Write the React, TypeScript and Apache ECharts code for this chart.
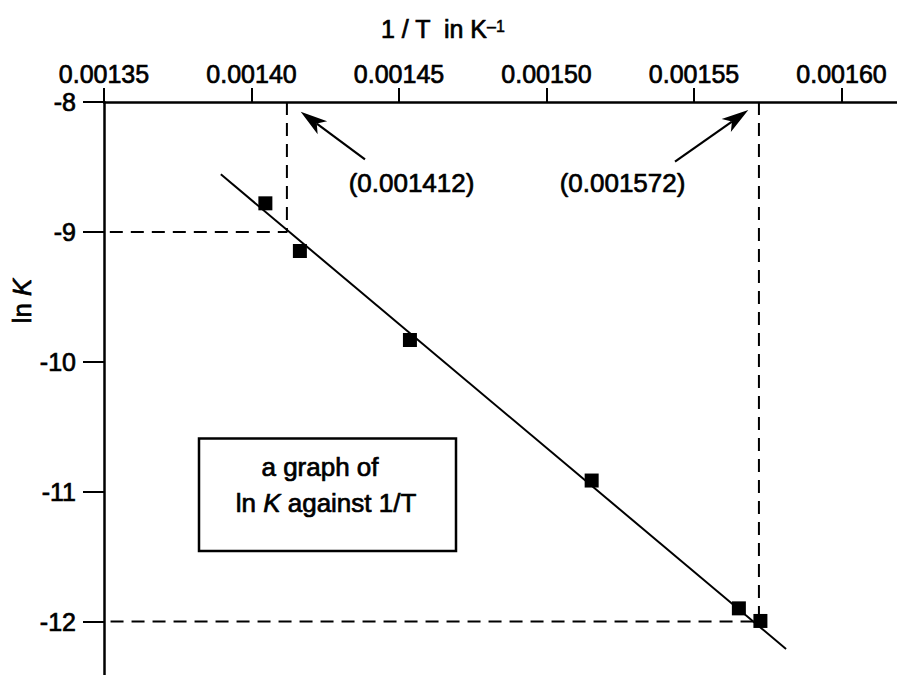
import React, { useEffect, useRef } from "react";
import * as echarts from "echarts";

// ---- data ----
const xTicks = [0.00135, 0.0014, 0.00145, 0.0015, 0.00155, 0.0016];
const yTicks = [-12, -11, -10, -9, -8];
const invT = [0.0014047, 0.0014164, 0.0014537, 0.0015153, 0.0015652, 0.0015725];
const lnK = [-8.78, -9.147, -9.832, -10.914, -11.898, -11.995];
const fitX = [0.0013896, 0.0015812];
const fitY = [-8.557, -12.211];
const readX = [0.001412, 0.001572];
const readY = [-9, -12];

const FONT = "'Liberation Sans', Arial, Helvetica, sans-serif";
const SW = 0.7; // slight stroke to mimic the heavier print weight

function arrow(tail: number[], tip: number[]) {
  const dx = tip[0] - tail[0];
  const dy = tip[1] - tail[1];
  const L = Math.hypot(dx, dy);
  const ux = dx / L, uy = dy / L;
  const nx = -uy, ny = ux;
  const hl = 27, hw = 8, notch = 20;
  const bx = tip[0] - ux * hl, by = tip[1] - uy * hl;
  const mx = tip[0] - ux * notch, my = tip[1] - uy * notch;
  return [
    { type: "line", shape: { x1: tail[0], y1: tail[1], x2: mx, y2: my }, style: { stroke: "#000", lineWidth: 2.2 } },
    {
      type: "polygon",
      shape: { points: [[tip[0], tip[1]], [bx + nx * hw, by + ny * hw], [mx, my], [bx - nx * hw, by - ny * hw]] },
      style: { fill: "#000" },
    },
  ];
}

export default function App() {
  const ref = useRef<HTMLDivElement>(null);
  useEffect(() => {
    if (!ref.current) return;
    const chart = echarts.init(ref.current, null, { renderer: "svg" });
    const points = invT.map((x, i) => [x, lnK[i]]);
    const fit = fitX.map((x, i) => [x, fitY[i]]);
    const guides = readX.map((x, i) => [[x, -8], [x, readY[i]], [0.00135, readY[i]]]);

    const txt = (size: number, italic = false) => ({
      fontSize: size,
      fontFamily: FONT,
      fontStyle: italic ? "italic" : "normal",
      fill: "#000",
      stroke: "#000",
      lineWidth: SW,
    });

    const option: any = {
      animation: false,
      backgroundColor: "#fff",
      grid: { left: 104, top: 102, right: 0, bottom: 0, containLabel: false },
      xAxis: {
        type: "value",
        position: "top",
        min: 0.00135,
        max: 0.0016188,
        axisLine: { onZero: false, lineStyle: { color: "#000", width: 2.5 } },
        axisTick: { show: true, length: 14, lineStyle: { color: "#000", width: 2 }, customValues: xTicks },
        axisLabel: {
          customValues: xTicks,
          formatter: (v: number) => v.toFixed(5),
          fontSize: 25,
          color: "#000",
          fontFamily: FONT,
          textBorderColor: "#000",
          textBorderWidth: SW,
          margin: 16,
        },
        splitLine: { show: false },
      },
      yAxis: {
        type: "value",
        min: -12.411,
        max: -8,
        axisLine: { onZero: false, lineStyle: { color: "#000", width: 2.5 } },
        axisTick: { show: true, length: 21, lineStyle: { color: "#000", width: 2 }, customValues: yTicks },
        axisLabel: {
          customValues: yTicks,
          formatter: (v: number) => String(v),
          fontSize: 25,
          color: "#000",
          fontFamily: FONT,
          textBorderColor: "#000",
          textBorderWidth: SW,
          margin: 28,
        },
        splitLine: { show: false },
      },
      series: [
        ...guides.map((g) => ({
          type: "line",
          data: g,
          showSymbol: false,
          symbol: "none",
          lineStyle: { color: "#000", width: 2, type: [13, 8] },
          z: 1,
        })),
        {
          type: "line",
          data: fit,
          showSymbol: false,
          symbol: "none",
          lineStyle: { color: "#000", width: 2 },
          z: 2,
        },
        {
          type: "scatter",
          data: points,
          symbol: "rect",
          symbolSize: 14,
          itemStyle: { color: "#000", opacity: 1 },
          z: 3,
        },
      ],
      graphic: [
        {
          type: "text",
          x: 487,
          y: 28.5,
          style: { text: "1 / T  in K", ...txt(25), textAlign: "right", textVerticalAlign: "middle" },
        },
        {
          type: "text",
          x: 487,
          y: 26,
          style: { text: "\u20131", ...txt(16), lineWidth: 0.5, textAlign: "left", textVerticalAlign: "middle" },
        },
        {
          type: "text",
          x: 22,
          y: 301,
          rotation: Math.PI / 2,
          style: {
            text: "{a|ln }{b|K}",
            textAlign: "center",
            textVerticalAlign: "middle",
            rich: { a: txt(26), b: txt(26, true) },
          },
        },
        {
          type: "text",
          x: 411.5,
          y: 183,
          style: { text: `(${readX[0]})`, ...txt(26), textAlign: "center", textVerticalAlign: "middle" },
        },
        {
          type: "text",
          x: 622.5,
          y: 183,
          style: { text: `(${readX[1]})`, ...txt(26), textAlign: "center", textVerticalAlign: "middle" },
        },
        ...arrow([365, 159.3], [300.7, 111.7]),
        ...arrow([675, 161.7], [748.3, 110]),
        {
          type: "rect",
          shape: { x: 199, y: 438.5, width: 257, height: 112.5 },
          style: { fill: "none", stroke: "#000", lineWidth: 2.5 },
        },
        {
          type: "text",
          x: 320,
          y: 467,
          style: { text: "a graph of", ...txt(26), textAlign: "center", textVerticalAlign: "middle" },
        },
        {
          type: "text",
          x: 326,
          y: 503,
          style: {
            text: "{a|ln }{b|K}{a| against 1/T}",
            textAlign: "center",
            textVerticalAlign: "middle",
            rich: { a: txt(26), b: txt(26, true) },
          },
        },
      ],
    };
    chart.setOption(option);
    return () => chart.dispose();
  }, []);
  return (
    <div
      ref={ref}
      style={{ position: "fixed", left: 0, top: 0, width: 897, height: 675, background: "#fff" }}
    />
  );
}
